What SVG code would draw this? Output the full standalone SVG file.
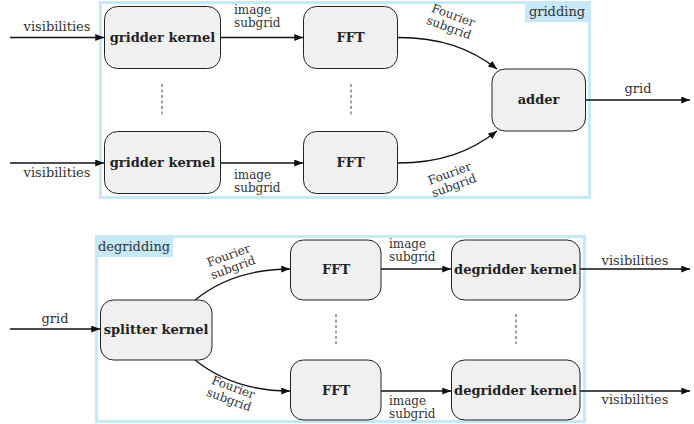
<svg xmlns="http://www.w3.org/2000/svg" width="694" height="424" viewBox="0 0 694 424">
<style>
.frame{fill:none;stroke:#c5e9f8;stroke-width:3}
.tag{fill:#c5e9f8}
.box{fill:#f0f0f0;stroke:#222;stroke-width:1}
.b{font-family:"DejaVu Serif","Liberation Serif","Times New Roman",serif;font-weight:bold;font-size:13px;fill:#222;text-anchor:middle}
.t{font-family:"DejaVu Serif","Liberation Serif","Times New Roman",serif;font-size:13px;fill:#333}
.s{font-family:"DejaVu Serif","Liberation Serif","Times New Roman",serif;font-size:12px;fill:#333}
.m{text-anchor:middle}
.e{stroke:#111;stroke-width:1.3;fill:none;marker-end:url(#ah)}
.dots{stroke:#444;stroke-width:1;stroke-dasharray:3,2.5}
</style>
<defs>
<marker id="ah" viewBox="0 0 10 8" refX="10" refY="4" markerWidth="9" markerHeight="7" markerUnits="userSpaceOnUse" orient="auto">
<path d="M0,0 L10,4 L0,8 Z" fill="#111"/>
</marker>
</defs>
<g id="gridding-frame">
<rect class="frame" x="100.5" y="2.5" width="489" height="195"/>
<rect class="tag" x="525" y="2" width="65" height="20"/>
<text class="t" x="557" y="16" text-anchor="middle">gridding</text>
</g>
<g id="degridding-frame">
<rect class="frame" x="96.5" y="236.5" width="488" height="185"/>
<rect class="tag" x="96" y="236" width="77" height="21"/>
<text class="t" x="134" y="251" text-anchor="middle">degridding</text>
</g>
<g id="connectors">
<path class="e" d="M10,37.5 H104"/>
<path class="e" d="M10,163 H104"/>
<path class="e" d="M221,37.5 H303"/>
<path class="e" d="M221,163 H303"/>
<path class="e" d="M398,37.5 C440,37.5 470,48 497,69"/>
<path class="e" d="M398,163 C440,163 470,152 497,131"/>
<path class="e" d="M586,100 H690"/>
<path class="e" d="M10,329 H100"/>
<path class="e" d="M195,300 C220,280 250,269 290,269"/>
<path class="e" d="M195,360 C220,380 250,391 290,391"/>
<path class="e" d="M381,269 H451"/>
<path class="e" d="M381,391 H451"/>
<path class="e" d="M580,269 H690"/>
<path class="e" d="M580,391 H690"/>
<line class="dots" x1="162" y1="84" x2="162" y2="115"/>
<line class="dots" x1="351" y1="84" x2="351" y2="115"/>
<line class="dots" x1="336" y1="314" x2="336" y2="344"/>
<line class="dots" x1="516" y1="314" x2="516" y2="344"/>
</g>
<g id="labels">
<text class="t m" x="57" y="31">visibilities</text>
<text class="t m" x="57" y="177">visibilities</text>
<text class="s" x="234" y="14">image</text>
<text class="s" x="234" y="27">subgrid</text>
<text class="s" x="234" y="179">image</text>
<text class="s" x="234" y="192">subgrid</text>
<g transform="translate(451,22) rotate(20)"><text class="s m" x="0" y="-3">Fourier</text><text class="s m" x="0" y="10">subgrid</text></g>
<g transform="translate(452,180) rotate(-20)"><text class="s m" x="0" y="-3">Fourier</text><text class="s m" x="0" y="10">subgrid</text></g>
<text class="t m" x="638" y="93">grid</text>
<text class="t m" x="55" y="323">grid</text>
<g transform="translate(231,262) rotate(-20)"><text class="s m" x="0" y="-3">Fourier</text><text class="s m" x="0" y="10">subgrid</text></g>
<g transform="translate(231,394) rotate(20)"><text class="s m" x="0" y="-3">Fourier</text><text class="s m" x="0" y="10">subgrid</text></g>
<text class="s" x="389" y="248">image</text>
<text class="s" x="389" y="261">subgrid</text>
<text class="s" x="389" y="405">image</text>
<text class="s" x="389" y="418">subgrid</text>
<text class="t m" x="635" y="265">visibilities</text>
<text class="t m" x="635" y="404">visibilities</text>
</g>
<g id="gridder1"><rect class="box" x="104.5" y="6.5" width="116" height="62" rx="13"/><text class="b" x="162.5" y="42">gridder kernel</text></g>
<g id="gridder2"><rect class="box" x="104.5" y="131.5" width="116" height="62" rx="13"/><text class="b" x="162.5" y="167">gridder kernel</text></g>
<g id="fft1"><rect class="box" x="303.5" y="6.5" width="94" height="62" rx="13"/><text class="b" x="350.5" y="42">FFT</text></g>
<g id="fft2"><rect class="box" x="303.5" y="131.5" width="94" height="62" rx="13"/><text class="b" x="350.5" y="167">FFT</text></g>
<g id="adder"><rect class="box" x="492" y="69" width="93.5" height="62" rx="13"/><text class="b" x="538.5" y="104">adder</text></g>
<g id="splitter"><rect class="box" x="100.5" y="300" width="111.5" height="60" rx="13"/><text class="b" x="156" y="334">splitter kernel</text></g>
<g id="fft3"><rect class="box" x="290.5" y="240" width="90.5" height="60" rx="13"/><text class="b" x="336" y="274">FFT</text></g>
<g id="fft4"><rect class="box" x="290.5" y="360" width="90.5" height="60" rx="13"/><text class="b" x="336" y="395">FFT</text></g>
<g id="degridder1"><rect class="box" x="451.5" y="240" width="128.5" height="60" rx="13"/><text class="b" x="515.5" y="274">degridder kernel</text></g>
<g id="degridder2"><rect class="box" x="451.5" y="360" width="128.5" height="60" rx="13"/><text class="b" x="515.5" y="395">degridder kernel</text></g>
</svg>
